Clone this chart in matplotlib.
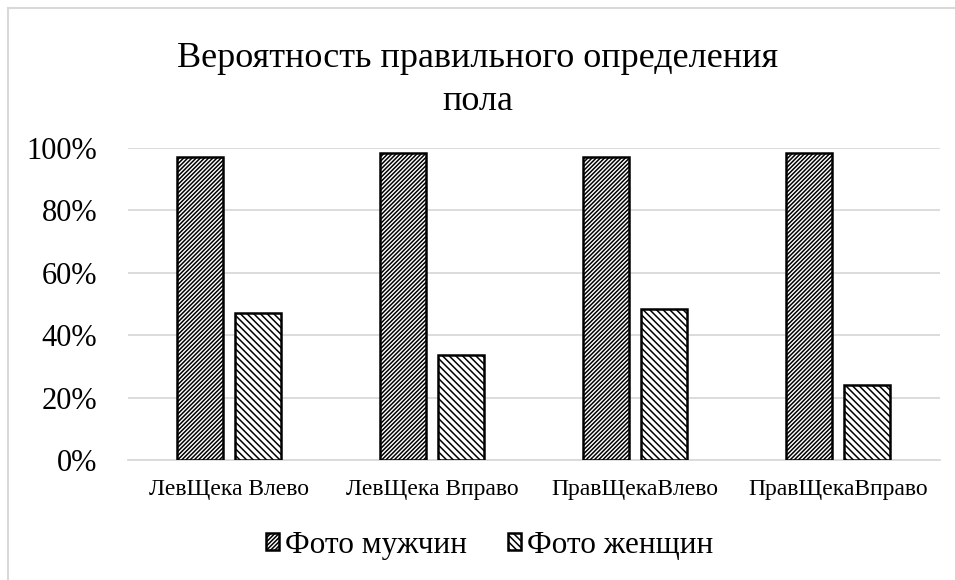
import matplotlib.pyplot as plt
import numpy as np
from matplotlib.lines import Line2D
from matplotlib.ticker import PercentFormatter

plt.rcParams['font.family'] = ['Liberation Serif', 'DejaVu Serif']
plt.rcParams['hatch.linewidth'] = 1.1

categories = ["ЛевЩека Влево", "ЛевЩека Вправо", "ПравЩекаВлево", "ПравЩекаВправо"]
men = [97.2, 98.5, 97.2, 98.5]
women = [47.2, 33.5, 48.3, 24.0]
series_names = ["Фото мужчин", "Фото женщин"]

fig = plt.figure(figsize=(9.55, 5.8), dpi=100)
ax = fig.add_axes([0.134, 0.207, 0.850, 0.538])

x = np.arange(len(categories))
w = 0.227
gap = 0.059
ax.bar(x - (w + gap) / 2, men, w, color='white', edgecolor='black', linewidth=1.8,
       hatch='////////', label=series_names[0], zorder=3)
ax.bar(x + (w + gap) / 2, women, w, color='white', edgecolor='black', linewidth=1.8,
       hatch='\\\\\\\\\\', label=series_names[1], zorder=3)

ax.set_xlim(-0.5, len(categories) - 0.5)
ax.set_ylim(0, 100)
ax.set_yticks(range(0, 101, 20))
ax.yaxis.set_major_formatter(PercentFormatter(decimals=0))
ax.grid(axis='y', color='#d9d9d9', linewidth=1.3, zorder=0)
for s in ['top', 'right', 'left']:
    ax.spines[s].set_visible(False)
ax.spines['bottom'].set_color('#d9d9d9')
ax.spines['bottom'].set_linewidth(1.3)
ax.tick_params(length=0)
ax.tick_params(axis='y', labelsize=22, pad=22)
ax.set_xticks(x)
ax.set_xticklabels(categories, fontsize=17)
ax.tick_params(axis='x', pad=14)

fig.text(0.50, 0.862, "Вероятность правильного определения\nпола", ha='center',
         va='center', fontsize=26, linespacing=1.43)

leg = ax.legend(loc='center', ncol=2, frameon=False, fontsize=22.5,
                handlelength=0.42, handleheight=0.42, handletextpad=0.2,
                columnspacing=1.3)
leg.set_bbox_to_anchor((0.513, 0.06), transform=fig.transFigure)

fig.add_artist(Line2D([8 / 955, 8 / 955], [0, 1 - 8 / 580], color='#d9d9d9', lw=1.5))
fig.add_artist(Line2D([8 / 955, 1], [1 - 8 / 580, 1 - 8 / 580], color='#d9d9d9', lw=1.5))

fig.savefig('out.png', dpi=100)
